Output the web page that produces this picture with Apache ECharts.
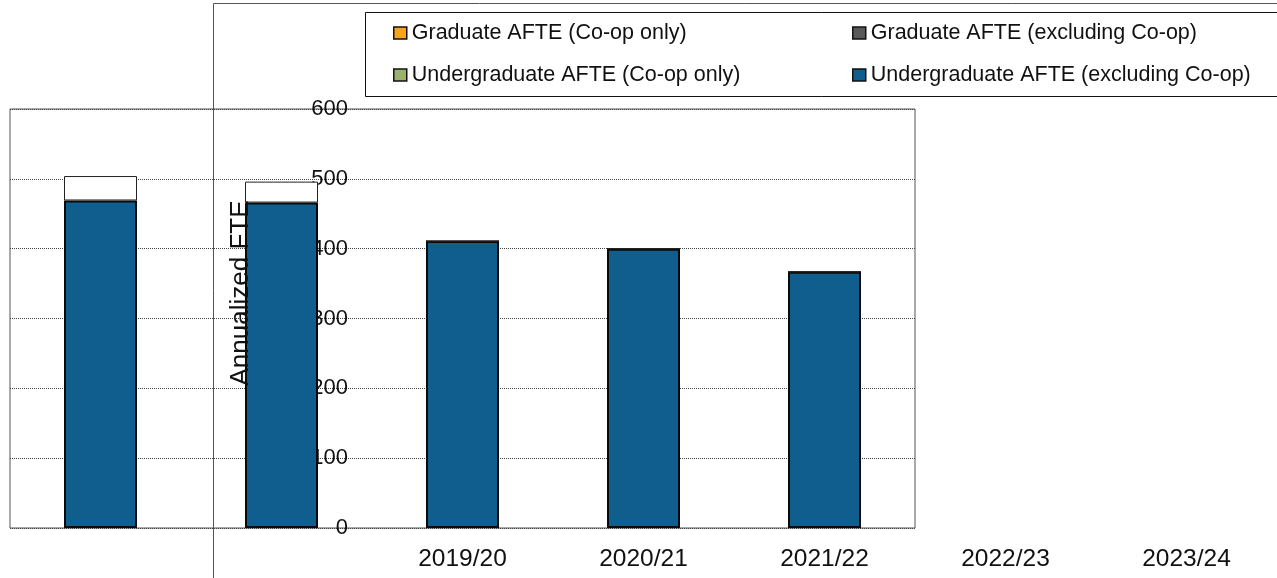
<!DOCTYPE html>
<html>
<head>
<meta charset="utf-8">
<script src="https://cdn.jsdelivr.net/npm/echarts@6/dist/echarts.min.js"></script>
<style>
html,body{margin:0;padding:0;background:#fff;}
#chart{width:1277px;height:578px;}
</style>
</head>
<body>
<div id="chart"></div>
<script>
// ---- data ----
var barCategories = ['c1', 'c2', 'c3', 'c4', 'c5'];
var tickLabels = ['2019/20', '2020/21', '2021/22', '2022/23', '2023/24'];
var ugExclCoop = [469, 466, 411, 400, 367];
var ugCoop = [0, 0, 0, 0, 0];
var gradCoop = [0, 0, 0, 0, 0];
var gradExclCoop = [35, 30, 0, 0, 0];
var yTicks = [0, 100, 200, 300, 400, 500, 600];

var names = {
  gradCoop: 'Graduate AFTE (Co-op only)',
  gradExcl: 'Graduate AFTE (excluding Co-op)',
  ugCoop: 'Undergraduate AFTE (Co-op only)',
  ugExcl: 'Undergraduate AFTE (excluding Co-op)'
};
var colors = {
  gradCoop: '#F8A51B',
  gradExcl: '#595959',
  ugCoop: '#9CB16C',
  ugExcl: '#0F5E8E'
};

var FONT = 'Liberation Sans';
var chart = echarts.init(document.getElementById('chart'), null, {renderer: 'canvas'});

function legendAt(key, left, top) {
  return {
    show: true,
    left: left, top: top,
    padding: 0,
    icon: 'rect',
    itemWidth: 13, itemHeight: 12,
    selectedMode: false,
    itemStyle: {borderColor: '#111', borderWidth: 1.5},
    textStyle: {fontFamily: FONT, fontSize: 21.5, color: '#111'},
    data: [{name: names[key], itemStyle: {color: colors[key], borderColor: '#111', borderWidth: 1.5}}]
  };
}

var option = {
  animation: false,
  backgroundColor: '#fff',
  grid: [
    {left: 10, top: 109, width: 905, height: 419, show: true, borderColor: '#555', borderWidth: 1, backgroundColor: 'transparent', containLabel: false},
    {left: 372, top: 109, width: 907, height: 419, show: false, containLabel: false}
  ],
  xAxis: [
    {type: 'category', gridIndex: 0, data: barCategories, axisLine: {show: false}, axisTick: {show: false}, axisLabel: {show: false}, splitLine: {show: false}},
    {type: 'category', gridIndex: 1, data: tickLabels, axisLine: {show: false}, axisTick: {show: false},
     axisLabel: {show: true, margin: 19, fontFamily: FONT, fontSize: 24.5, color: '#111'}, splitLine: {show: false}}
  ],
  yAxis: [
    {type: 'value', gridIndex: 0, min: 0, max: 600, interval: 100, axisLine: {show: false}, axisTick: {show: false}, axisLabel: {show: false},
     splitLine: {show: true, lineStyle: {type: [1, 1], color: '#444', width: 1}}},
    {type: 'value', gridIndex: 1, min: 0, max: 600, interval: 100, axisLine: {show: false}, axisTick: {show: false},
     axisLabel: {show: true, margin: 24, fontFamily: FONT, fontSize: 22, color: '#111',
       formatter: function (v) { return yTicks.indexOf(v) >= 0 ? String(v) : ''; }},
     splitLine: {show: false}}
  ],
  legend: [
    legendAt('gradCoop', 393, 22),
    legendAt('gradExcl', 852, 22),
    legendAt('ugCoop', 393, 64),
    legendAt('ugExcl', 852, 64)
  ],
  series: [
    {name: names.ugExcl, type: 'bar', stack: 'a', xAxisIndex: 0, yAxisIndex: 0, barWidth: 73, data: ugExclCoop,
     itemStyle: {color: colors.ugExcl, borderColor: '#0a0a0a', borderWidth: 2}},
    {name: names.ugCoop, type: 'bar', stack: 'a', xAxisIndex: 0, yAxisIndex: 0, barWidth: 73, data: ugCoop,
     itemStyle: {color: colors.ugCoop, borderWidth: 0}},
    {name: names.gradCoop, type: 'bar', stack: 'a', xAxisIndex: 0, yAxisIndex: 0, barWidth: 73, data: gradCoop,
     itemStyle: {color: colors.gradCoop, borderWidth: 0}},
    {name: names.gradExcl, type: 'bar', stack: 'a', xAxisIndex: 0, yAxisIndex: 0, barWidth: 73, data: gradExclCoop,
     itemStyle: {color: '#ffffff', borderColor: '#222', borderWidth: 1}}
  ],
  graphic: [
    {type: 'line', shape: {x1: 213.5, y1: 3.5, x2: 1277, y2: 3.5}, style: {stroke: '#555', lineWidth: 1}, z: 1},
    {type: 'line', shape: {x1: 213.5, y1: 3.5, x2: 213.5, y2: 578}, style: {stroke: '#555', lineWidth: 1}, z: 1},
    {type: 'rect', shape: {x: 365.5, y: 12.5, width: 1000, height: 84}, style: {fill: '#fff', stroke: '#111', lineWidth: 1}, z: 0},
    {type: 'text', x: 241, y: 293, rotation: Math.PI / 2,
     style: {text: 'Annualized FTE', fontFamily: FONT, fontSize: 26, fill: '#111', align: 'center', verticalAlign: 'middle'}, z: 100}
  ]
};
chart.setOption(option);
</script>
</body>
</html>
